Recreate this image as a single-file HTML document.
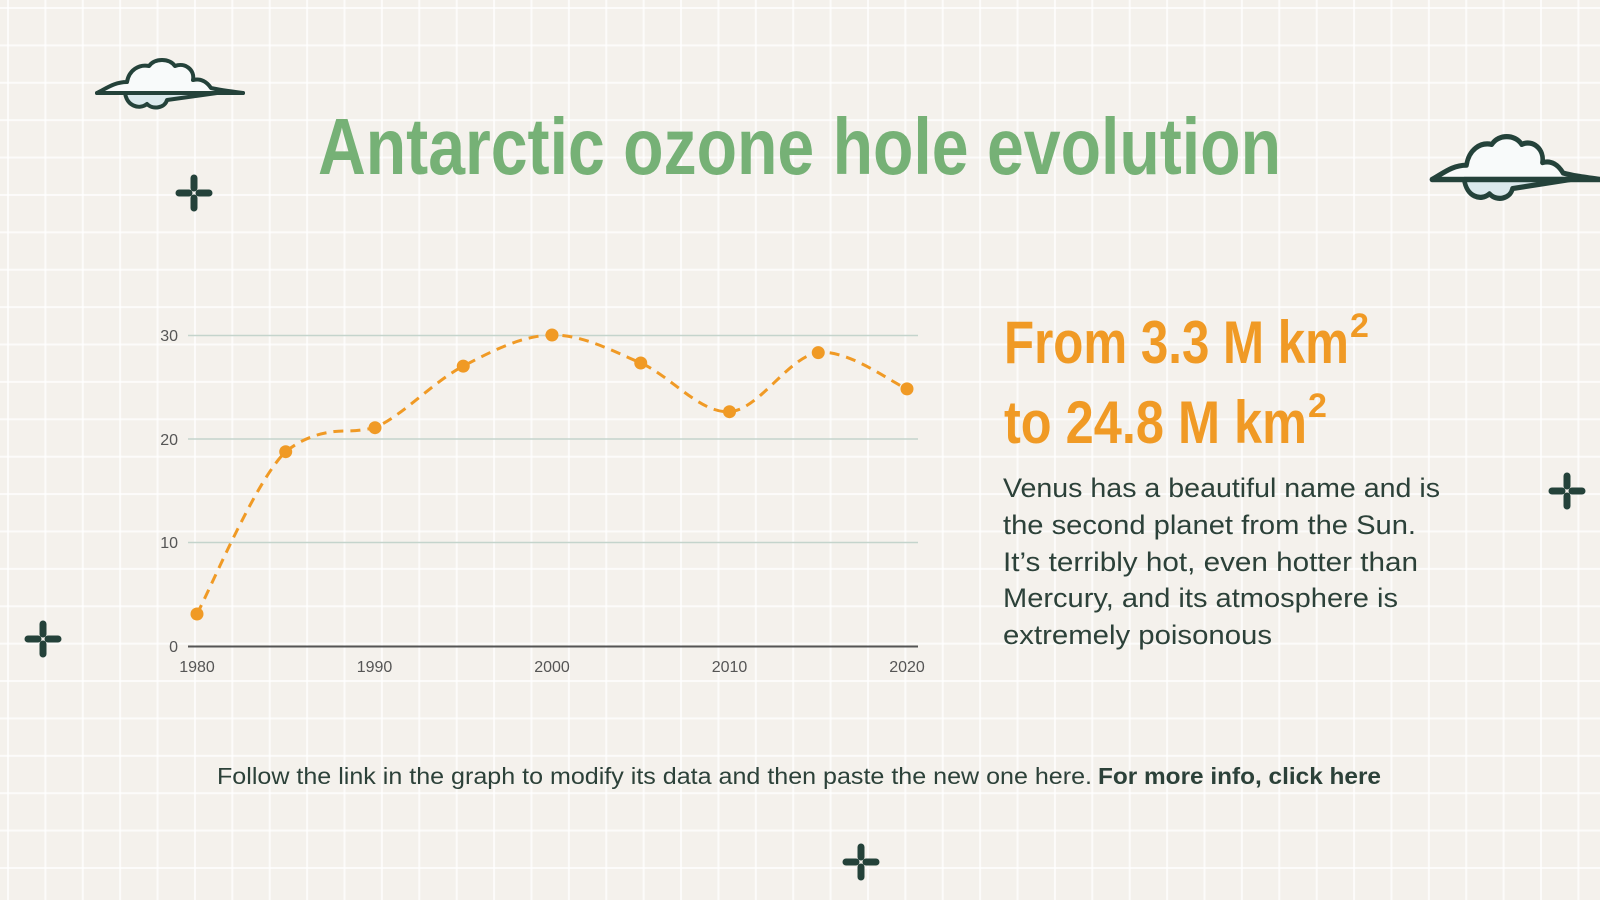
<!DOCTYPE html>
<html><head><meta charset="utf-8"><style>
html,body{margin:0;padding:0}
body{width:1600px;height:900px;overflow:hidden;background-color:#f4f1ec;
background-image:linear-gradient(to right,rgba(255,255,255,.75) 2px,transparent 2px),linear-gradient(to bottom,rgba(255,255,255,.75) 2px,transparent 2px);
background-size:37.4px 37.4px;background-position:7px 7px;}
svg{position:absolute;left:0;top:0}
</style></head><body>
<svg width="1600" height="900" viewBox="0 0 1600 900" xmlns="http://www.w3.org/2000/svg">
<defs>
<g id="star"><path d="M0,-15 V-5 M0,5 V15 M-15,0 H-5 M5,0 H15" stroke="#24423a" stroke-width="7" stroke-linecap="round" fill="none"/></g>
<g id="cloud">
<path d="M0,35 C10,30 18,24 30,24 C32,12 42,6 52,8 C58,0 72,0 78,8 C88,4 98,12 96,22 C104,20 110,24 114,30 C122,32 130,33 146,35 Z" fill="#f8fafa" stroke="#24423a" stroke-width="4" stroke-linejoin="round"/>
<path d="M28,35 C30,48 42,52 50,46 C56,52 68,50 70,42 L120,35 Z" fill="#dbe9ec" stroke="#24423a" stroke-width="4" stroke-linejoin="round"/>
<path d="M0,35 H146" stroke="#24423a" stroke-width="4" stroke-linecap="round"/>
</g>
</defs>
<use href="#cloud" transform="translate(97,58)"/>
<use href="#cloud" transform="translate(1432,134) scale(1.15,1.3)"/>
<use href="#star" transform="translate(194,193)"/>
<use href="#star" transform="translate(1567,491)"/>
<use href="#star" transform="translate(43,639)"/>
<use href="#star" transform="translate(861,862)"/>

<text x="318" y="174" textLength="963" lengthAdjust="spacingAndGlyphs" font-family="'Liberation Sans Narrow','Liberation Sans',sans-serif" font-weight="bold" font-size="80" fill="#76b176">Antarctic ozone hole evolution</text>

<g font-family="'Liberation Sans Narrow','Liberation Sans',sans-serif" font-weight="bold" font-size="60" fill="#f09a25">
<text x="1004" y="363" textLength="345" lengthAdjust="spacingAndGlyphs">From 3.3 M km</text>
<text x="1350" y="337" font-size="34">2</text>
<text x="1004" y="443" textLength="303" lengthAdjust="spacingAndGlyphs">to 24.8 M km</text>
<text x="1308" y="417" font-size="34">2</text>
</g>
<g font-family="'Liberation Sans',sans-serif" font-size="27" fill="#2c4139">
<text x="1003" y="497" textLength="437" lengthAdjust="spacingAndGlyphs">Venus has a beautiful name and is</text>
<text x="1003" y="534" textLength="413" lengthAdjust="spacingAndGlyphs">the second planet from the Sun.</text>
<text x="1003" y="571" textLength="415" lengthAdjust="spacingAndGlyphs">It’s terribly hot, even hotter than</text>
<text x="1003" y="607" textLength="395" lengthAdjust="spacingAndGlyphs">Mercury, and its atmosphere is</text>
<text x="1003" y="644" textLength="269" lengthAdjust="spacingAndGlyphs">extremely poisonous</text>
</g>
<g font-family="'Liberation Sans',sans-serif" font-size="23" fill="#2c4139">
<text x="217" y="784" textLength="875" lengthAdjust="spacingAndGlyphs">Follow the link in the graph to modify its data and then paste the new one here.</text>
<text x="1098" y="784" textLength="283" lengthAdjust="spacingAndGlyphs" font-weight="bold">For more info, click here</text>
</g>

<g stroke="#c4d4cc" stroke-width="1.5">
<line x1="188" y1="335.5" x2="918" y2="335.5"/>
<line x1="188" y1="439" x2="918" y2="439"/>
<line x1="188" y1="542.5" x2="918" y2="542.5"/>
</g>
<line x1="188" y1="646.5" x2="918" y2="646.5" stroke="#555" stroke-width="2"/>
<g font-family="'Liberation Sans',sans-serif" font-size="16" fill="#555" text-anchor="end">
<text x="178" y="341">30</text><text x="178" y="445">20</text><text x="178" y="548">10</text><text x="178" y="652">0</text>
</g>
<g font-family="'Liberation Sans',sans-serif" font-size="16" fill="#555" text-anchor="middle">
<text x="197" y="672">1980</text><text x="374.5" y="672">1990</text><text x="552" y="672">2000</text><text x="729.5" y="672">2010</text><text x="907" y="672">2020</text>
</g>
<path d="M197,614 C211.8,585.7 256.2,479.8 285.7,451.7 C300,440 320,431 345,431 C360,431 368,429 375,427.7 C404.1,414.5 433.6,381.6 463.25,366.1 C492.8,350.6 522.4,335.5 552,335 C581.6,334.5 611.1,350.2 640.75,363 C670.3,375.8 699.9,413.4 729.5,411.7 C759.1,410 788.7,356.4 818.25,352.6 C847.8,348.8 892.2,382.8 907,388.9" fill="none" stroke="#f09a25" stroke-width="3" stroke-dasharray="10 7"/>
<g fill="#f09a25">
<circle cx="197" cy="614" r="6.5"/><circle cx="285.7" cy="451.7" r="6.5"/><circle cx="375" cy="427.7" r="6.5"/>
<circle cx="463.25" cy="366.1" r="6.5"/><circle cx="552" cy="335" r="6.5"/><circle cx="640.75" cy="363" r="6.5"/>
<circle cx="729.5" cy="411.7" r="6.5"/><circle cx="818.25" cy="352.6" r="6.5"/><circle cx="907" cy="388.9" r="6.5"/>
</g>
</svg>
</body></html>
